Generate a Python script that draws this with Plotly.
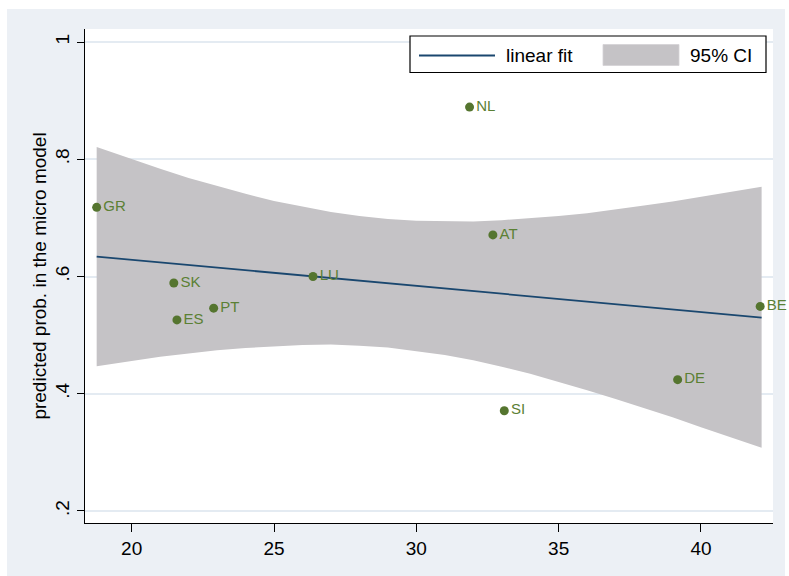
import plotly.graph_objects as go

# ---- data ----
countries = ["GR", "SK", "LU", "ES", "PT", "BE", "DE", "SI", "NL", "AT"]
x_vals = [18.77, 21.48, 26.37, 21.59, 22.88, 42.08, 39.18, 33.09, 31.87, 32.69]
y_vals = [0.718, 0.589, 0.600, 0.526, 0.546, 0.549, 0.424, 0.371, 0.889, 0.671]

fit_x = [18.77, 42.13]
fit_y = [0.634, 0.530]

ci_x = [18.77, 20, 21, 22, 23, 24, 25, 26, 27, 28, 29, 30, 31, 32, 33, 34,
        35, 36, 37, 38, 39, 40, 41, 42.13]
ci_upper = [0.821, 0.800, 0.784, 0.768, 0.754, 0.741, 0.729, 0.719, 0.710, 0.703,
            0.698, 0.695, 0.694, 0.694, 0.696, 0.699, 0.703, 0.708, 0.714, 0.721,
            0.728, 0.736, 0.744, 0.753]
ci_lower = [0.447, 0.456, 0.463, 0.469, 0.474, 0.478, 0.481, 0.483, 0.484, 0.482,
            0.479, 0.473, 0.466, 0.457, 0.446, 0.434, 0.420, 0.406, 0.391, 0.376,
            0.360, 0.343, 0.326, 0.308]

x_ticks = [20, 25, 30, 35, 40]
y_ticks = [0.2, 0.4, 0.6, 0.8, 1.0]
y_tick_labels = [".2", ".4", ".6", ".8", "1"]

legend_labels = ["linear fit", "95% CI"]

# ---- styling ----
FONT = "Liberation Sans, Arial, sans-serif"
BG = "#ECF0F5"
GRID = "#E4EBF2"
GREEN = "#55752F"
LABEL_GREEN = "#5B8034"
NAVY = "#1A476F"
BAND = "#C5C3C6"

W, H = 789, 576
L, R, T, B = 85, 16, 29, 53
pw, ph = W - L - R, H - T - B


def pxx(px):
    return (px - L) / pw


def pxy(py):
    return (H - B - py) / ph


fig = go.Figure()

fig.add_trace(go.Scatter(
    x=ci_x + ci_x[::-1],
    y=ci_upper + ci_lower[::-1],
    fill="toself", fillcolor=BAND, mode="lines",
    line=dict(width=0, color=BAND),
    name=legend_labels[1], showlegend=False, hoverinfo="skip",
))

fig.add_trace(go.Scatter(
    x=fit_x, y=fit_y, mode="lines",
    line=dict(color=NAVY, width=1.8),
    name=legend_labels[0], showlegend=False,
))

fig.add_trace(go.Scatter(
    x=x_vals, y=y_vals, mode="markers+text",
    text=countries, textposition="middle right",
    textfont=dict(family=FONT, size=15, color=LABEL_GREEN),
    marker=dict(color=GREEN, size=9),
    showlegend=False, cliponaxis=False,
))

# outer background and white plot region
fig.add_shape(type="rect", xref="paper", yref="paper", layer="below",
              x0=pxx(7), x1=pxx(785), y0=pxy(H + 2), y1=pxy(9),
              fillcolor=BG, line=dict(width=0))
fig.add_shape(type="rect", xref="paper", yref="paper", layer="below",
              x0=0, x1=1, y0=0, y1=1,
              fillcolor="white", line=dict(width=0))

# legend (drawn as box, samples and texts)
fig.add_shape(type="rect", xref="paper", yref="paper",
              x0=pxx(410), x1=pxx(766), y0=pxy(72.5), y1=pxy(36),
              fillcolor="white", line=dict(color="black", width=1.2))
fig.add_shape(type="line", xref="paper", yref="paper",
              x0=pxx(419), x1=pxx(495), y0=pxy(55.5), y1=pxy(55.5),
              line=dict(color=NAVY, width=1.8))
fig.add_shape(type="rect", xref="paper", yref="paper",
              x0=pxx(603), x1=pxx(679), y0=pxy(65.5), y1=pxy(44.5),
              fillcolor=BAND, line=dict(color="#D4D2D5", width=0.8))
fig.add_annotation(xref="paper", yref="paper", x=pxx(504), y=pxy(55.5),
                   xanchor="left", yanchor="middle", showarrow=False,
                   text=legend_labels[0],
                   font=dict(family=FONT, size=19, color="black"))
fig.add_annotation(xref="paper", yref="paper", x=pxx(688), y=pxy(55.5),
                   xanchor="left", yanchor="middle", showarrow=False,
                   text=legend_labels[1],
                   font=dict(family=FONT, size=19, color="black"))

fig.update_layout(
    width=W, height=H,
    margin=dict(l=L, r=R, t=T, b=B, pad=0),
    paper_bgcolor="white",
    plot_bgcolor="rgba(0,0,0,0)",
    font=dict(family=FONT, size=19, color="black"),
    showlegend=False,
    xaxis=dict(
        range=[18.36, 42.53],
        tickvals=x_ticks, ticks="outside", ticklen=8, tickwidth=1.2,
        tickcolor="black", showline=True, linecolor="black", linewidth=1.2,
        showgrid=False, zeroline=False,
        tickfont=dict(family=FONT, size=19, color="black"),
    ),
    yaxis=dict(
        range=[0.1795, 1.0222],
        tickvals=y_ticks, ticktext=y_tick_labels, tickangle=-90,
        ticks="outside", ticklen=7, tickwidth=1.2, tickcolor="black",
        showline=True, linecolor="black", linewidth=1.2,
        showgrid=True, gridcolor=GRID, gridwidth=1.5, zeroline=False,
        tickfont=dict(family=FONT, size=19, color="black"),
        title=dict(text="predicted prob. in the micro model",
                   font=dict(family=FONT, size=19, color="black"),
                   standoff=0),
    ),
)

fig.write_html("out.html",
               config={"displayModeBar": False},
               post_script="document.body.style.margin='0';document.body.style.padding='0';")
